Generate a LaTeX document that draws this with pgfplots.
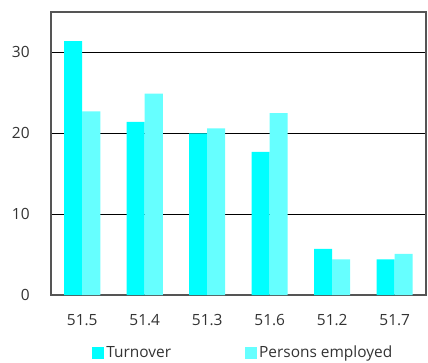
\documentclass[border=0pt]{standalone}
\usepackage{fontspec}
\setmainfont{Open Sans}
\usepackage{pgfplots}
\pgfplotsset{compat=1.18}
\definecolor{turn}{RGB}{0,255,255}
\definecolor{pers}{RGB}{102,255,255}
\definecolor{frame}{RGB}{85,85,85}
\begin{document}
\fontsize{15.5}{18}\selectfont
\begin{tikzpicture}
\path[use as bounding box] (-51bp,-68bp) rectangle (377bp,295bp);
\begin{axis}[
  at={(0,0)}, anchor=south west,
  scale only axis, width=375bp, height=283bp,
  ybar=0pt, bar width=18bp,
  xmin=-0.5, xmax=5.5, ymin=0, ymax=35,
  xtick={0,1,2,3,4,5},
  xticklabels={51.5,51.4,51.3,51.6,51.2,51.7},
  ytick={0,10,20,30},
  major tick length=0pt,
  ymajorgrids, grid style={black, line width=0.8bp},
  axis line style={frame, line width=1.1bp},
  /pgf/number format/assume math mode=true,
  ticklabel style={font=\fontsize{15.5}{18}\selectfont, text=black!80},
  yticklabel style={xshift=-16bp},
  xticklabel style={yshift=-14bp},
  legend columns=2,
  legend style={draw=none, fill=none, at={(0.513,-0.205)}, anchor=center,
    font=\fontsize{15.5}{18}\selectfont, text=black!80,
    /tikz/every even column/.append style={column sep=72bp},
    inner sep=0pt},
  legend image code/.code={\fill[#1, draw=none] (0bp,-6bp) rectangle (12bp,6bp);},
  legend cell align=left,
]
\addplot[fill=turn, draw=none] coordinates {(0,31.4) (1,21.4) (2,20.0) (3,17.7) (4,5.7) (5,4.4)};
\addplot[fill=pers, draw=none] coordinates {(0,22.7) (1,24.9) (2,20.6) (3,22.5) (4,4.4) (5,5.1)};
\legend{Turnover, Persons employed}
\end{axis}
\end{tikzpicture}
\end{document}
